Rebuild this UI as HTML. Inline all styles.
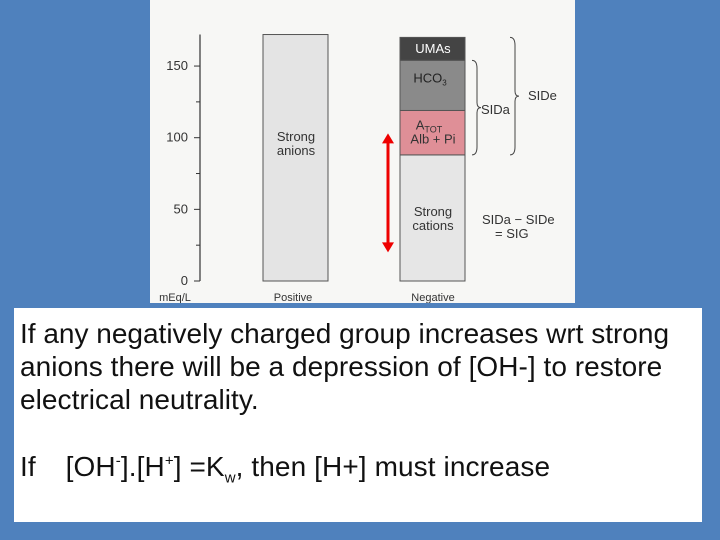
<!DOCTYPE html>
<html><head><meta charset="utf-8"><style>
body{margin:0;width:720px;height:540px;background:#4f81bd;position:relative;overflow:hidden;font-family:"Liberation Sans",Arial,sans-serif}
#chart{position:absolute;left:150px;top:0;width:425px;height:303px;background:#f7f7f5}
#box{position:absolute;left:14px;top:308px;width:688px;height:214px;background:#fff}
.t{position:absolute;left:6px;font-size:28px;color:#111;white-space:nowrap;letter-spacing:0.05px}
</style></head><body>
<div id="chart">
<svg id="svg" width="425" height="303" xmlns="http://www.w3.org/2000/svg" font-family="Liberation Sans, Arial, sans-serif" font-size="12" fill="#333"></svg>
</div>
<div id="box">
<div class="t" style="top:10px;letter-spacing:0">If any negatively charged group increases wrt strong</div>
<div class="t" style="top:43px">anions there will be a depression of [OH-] to restore</div>
<div class="t" style="top:76px">electrical neutrality.</div>
<div class="t" style="top:143px;letter-spacing:0.1px">If <span style="display:inline-block;width:22px"></span>[OH<sup style="font-size:15px">-</sup>].[H<sup style="font-size:15px">+</sup>] =K<sub style="font-size:15px">w</sub>, then [H+] must increase</div>
</div>
<script>
const ticks=[0,50,100,150];
const minorTicks=[25,75,125];
const posValue=[172];
const negLabels=["Strong cations","ATOT","HCO3","UMAs"];
const negValues=[88,31,35,16];
const negColors=["#e6e6e6","#df8f97","#8a8a8a","#444"];
const arrowRange=[20,103];
const svg=document.getElementById('svg');
const NS='http://www.w3.org/2000/svg';
function y(v){return 281-v*1.433;}
function el(tag,a,name){const e=document.createElementNS(NS,tag);for(const k in a)e.setAttribute(k,a[k]);


svg.appendChild(e);return e;}
function txt(x,yy,s,name,anchor,fill,size){const e=el('text',{x:x,y:yy,'text-anchor':anchor||'middle',fill:fill||'#333','font-size':size||13},name);e.textContent=s;return e;}
el('line',{x1:50,x2:50,y1:y(172),y2:y(0),stroke:'#333','stroke-width':1.2},'y-axis');
ticks.forEach(t=>{el('line',{x1:44,x2:50,y1:y(t),y2:y(t),stroke:'#333'},'y-tick');txt(38,y(t)+4,String(t),'y-tick-label','end');});
minorTicks.forEach(t=>{el('line',{x1:46,x2:50,y1:y(t),y2:y(t),stroke:'#333'},'y-minor-tick');});
txt(25,301,'mEq/L','y-axis-unit','middle','#333',11);
el('rect',{x:113,y:y(posValue[0]),width:65,height:y(0)-y(posValue[0]),fill:'#e4e4e4',stroke:'#555'},'positive-bar');
txt(146,141,'Strong','positive-label');txt(146,155,'anions','positive-label');
txt(143,301,'Positive','positive-axis-label','middle','#333',11);
let cum=0;
negValues.forEach((v,i)=>{const y0=y(cum),y1=y(cum+v);
el('rect',{x:250,y:y1,width:65,height:y0-y1,fill:negColors[i],stroke:'#555'},'negative-segment-'+i);cum+=v;});
let c=0;const mids=negValues.map(v=>{const m=(y(c)+y(c+v))/2;c+=v;return m;});
txt(283,mids[0]-2,'Strong','segment-label');txt(283,mids[0]+12,'cations','segment-label');
const at=txt(279,mids[1]-3,'A','segment-label');const ts=document.createElementNS(NS,'tspan');ts.setAttribute('font-size','9');ts.setAttribute('dy','3');ts.textContent='TOT';at.appendChild(ts);
txt(283,mids[1]+11,'Alb + Pi','segment-label');
const hc=txt(280,mids[2]-3,'HCO','segment-label','middle','#222');const t3=document.createElementNS(NS,'tspan');t3.setAttribute('font-size','8');t3.setAttribute('dy','3');t3.textContent='3';hc.appendChild(t3);
txt(283,mids[3]+4,'UMAs','segment-label','middle','#fff');
txt(283,301,'Negative','negative-axis-label','middle','#333',11);
const ax=238,ya=y(arrowRange[1]),yb=y(arrowRange[0]);
el('line',{x1:ax,x2:ax,y1:ya+8,y2:yb-8,stroke:'#e00','stroke-width':3},'red-arrow');
el('polygon',{points:`${ax},${ya} ${ax-6},${ya+10} ${ax+6},${ya+10}`,fill:'#e00'},'red-arrow-head-top');
el('polygon',{points:`${ax},${yb} ${ax-6},${yb-10} ${ax+6},${yb-10}`,fill:'#e00'},'red-arrow-head-bottom');
function brace(x,y0,y1,name){const m=(y0+y1)/2;
el('path',{d:`M${x},${y0} Q${x+5},${y0} ${x+5},${y0+8} L${x+5},${m-5} Q${x+5},${m} ${x+9},${m} Q${x+5},${m} ${x+5},${m+5} L${x+5},${y1-8} Q${x+5},${y1} ${x},${y1}`,fill:'none',stroke:'#444'},name);}
brace(322,y(negValues[0]+negValues[1]+negValues[2]),y(negValues[0]),'sida-brace');
brace(360,y(170),y(negValues[0]),'side-brace');
txt(331,114,'SIDa','sida-label','start');
txt(378,100,'SIDe','side-label','start');
txt(332,224,'SIDa − SIDe','sig-label','start');
txt(345,238,'= SIG','sig-label','start');
</script>
</body></html>
